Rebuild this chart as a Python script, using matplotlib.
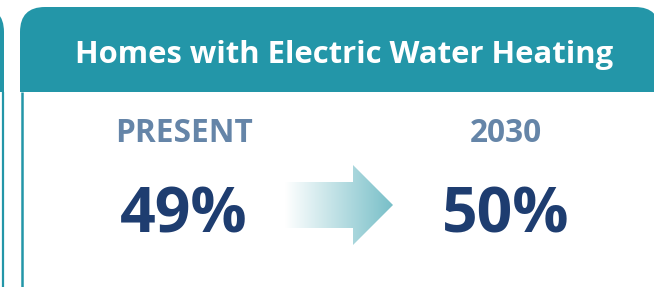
import numpy as np
import matplotlib
matplotlib.use("Agg")
import matplotlib.pyplot as plt
from matplotlib.patches import FancyBboxPatch, Rectangle, Polygon
from matplotlib.colors import LinearSegmentedColormap

# data
title = "Homes with Electric Water Heating"
periods = ["PRESENT", "2030"]
shares = [49, 50]

# colours
teal = "#2396a8"
label_col = "#6585a8"
value_col = "#1e3d70"
arrow_col = "#78bfc8"

plt.rcParams['font.family'] = ['Open Sans', 'DejaVu Sans']

W, H = 654, 287
fig = plt.figure(figsize=(W / 100, H / 100), dpi=100)
ax = fig.add_axes([0, 0, 1, 1])
ax.set_xlim(0, W)
ax.set_ylim(H, 0)
ax.axis('off')

# neighbouring panel, cut off at the left edge
ax.add_patch(FancyBboxPatch((-640, 7), 644, 200, boxstyle="round,pad=0,rounding_size=25",
                            fc=teal, ec='none'))
ax.add_patch(Rectangle((-640, 92), 644, 300, fc='white', ec='none'))
ax.plot([2.5, 2.5], [92, H + 5], color=teal, lw=1.6, solid_capstyle='butt')

# main panel (right edge just past the figure)
ax.add_patch(FancyBboxPatch((20, 7), 640, 200, boxstyle="round,pad=0,rounding_size=25",
                            fc=teal, ec='none'))
ax.add_patch(Rectangle((20, 92), 700, 300, fc='white', ec='none'))
ax.plot([22, 22], [92, H + 5], color=teal, lw=1.8, solid_capstyle='butt')

ax.text(344, 62.5, title, color='white', fontsize=22.3, fontweight='bold',
        ha='center', va='baseline')

# columns
col_x = [183.5, 505.5]
for x, p, v in zip(col_x, periods, shares):
    ax.text(x, 142.5, p, color=label_col, fontsize=22.8, fontweight='bold',
            ha='center', va='baseline')
    ax.text(x, 232.5, f"{v}%", color=value_col, fontsize=45, fontweight='bold',
            ha='center', va='baseline')

# gradient arrow
x0, x1, xh = 285, 393, 353
ys0, ys1 = 182, 228
yh0, yh1 = 165, 245
ymid = (yh0 + yh1) / 2
arrow = Polygon([(x0, ys0), (xh, ys0), (xh, yh0), (x1, ymid), (xh, yh1),
                 (xh, ys1), (x0, ys1)], closed=True, fc='none', ec='none')
ax.add_patch(arrow)
cmap = LinearSegmentedColormap.from_list('fade', ['white', arrow_col])
grad = np.linspace(0, 1, 256).reshape(1, -1)
im = ax.imshow(grad, cmap=cmap, extent=[x0, x1, yh1, yh0], aspect='auto', zorder=2)
im.set_clip_path(arrow)
ax.set_xlim(0, W)
ax.set_ylim(H, 0)

fig.savefig("out.png", dpi=100)
